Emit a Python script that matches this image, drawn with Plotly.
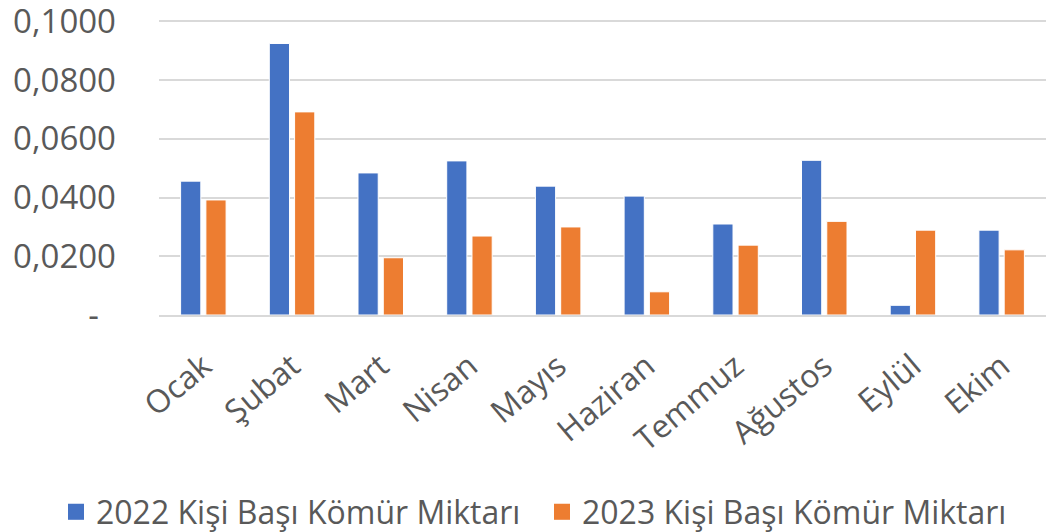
import plotly.graph_objects as go

months = ["Ocak", "Şubat", "Mart", "Nisan", "Mayıs", "Haziran", "Temmuz", "Ağustos", "Eylül", "Ekim"]
vals_2022 = [0.0456, 0.0925, 0.0484, 0.0525, 0.0439, 0.0405, 0.0310, 0.0527, 0.0033, 0.0289]
vals_2023 = [0.0392, 0.0692, 0.0195, 0.0269, 0.0300, 0.0079, 0.0238, 0.0319, 0.0289, 0.0222]
name_2022 = "2022 Kişi Başı Kömür Miktarı"
name_2023 = "2023 Kişi Başı Kömür Miktarı"
ytick_vals = [0, 0.02, 0.04, 0.06, 0.08, 0.10]
ytick_text = ["-\u00a0\u00a0", "0,0200", "0,0400", "0,0600", "0,0800", "0,1000"]

FONT = "Open Sans"
GRAY = "#595959"
BLUE = "#4472C4"
ORANGE = "#ED7D31"

fig = go.Figure()
fig.add_trace(go.Bar(x=months, y=vals_2022, name=name_2022, showlegend=False,
                     marker=dict(color=BLUE, line=dict(color="white", width=1))))
fig.add_trace(go.Bar(x=months, y=vals_2023, name=name_2023, showlegend=False,
                     marker=dict(color=ORANGE, line=dict(color="white", width=1))))
# legend entries with larger square symbols, one legend box each
fig.add_trace(go.Scatter(x=[None], y=[None], mode="markers", name=name_2022, legend="legend",
                         marker=dict(symbol="square", size=21, color=BLUE)))
fig.add_trace(go.Scatter(x=[None], y=[None], mode="markers", name=name_2023, legend="legend2",
                         marker=dict(symbol="square", size=21, color=ORANGE)))

leg_common = dict(orientation="h", xref="container", yref="container", xanchor="left",
                  y=1 - 512 / 532, yanchor="middle", font=dict(size=32, color=GRAY),
                  itemwidth=30, bgcolor="rgba(0,0,0,0)", borderwidth=0)

fig.update_layout(
    width=1046, height=532,
    margin=dict(l=159, r=0, t=20, b=217),
    paper_bgcolor="white", plot_bgcolor="white",
    barmode="group", bargap=0.43, bargroupgap=0.2,
    font=dict(family=FONT, color=GRAY, size=32),
    showlegend=True,
    legend=dict(x=56 / 1046, **leg_common),
    legend2=dict(x=542 / 1046, **leg_common),
    xaxis=dict(tickangle=-40, showgrid=False, showline=True, linecolor="#D9D9D9", linewidth=1.5,
               ticks="", tickfont=dict(size=32, color=GRAY), ticklabelstandoff=18,
               automargin=False),
    yaxis=dict(range=[0, 0.1005], tickvals=ytick_vals, ticktext=ytick_text, showgrid=True,
               gridcolor="#D9D9D9", gridwidth=1.5, zeroline=False, showline=False,
               tickfont=dict(size=33, color=GRAY), ticklabelstandoff=42, automargin=False,
               ticklabeloverflow="allow"),
)

fig.write_html("out.html", config={"displayModeBar": False},
               post_script="document.body.style.margin='0';document.body.style.overflow='hidden';")
